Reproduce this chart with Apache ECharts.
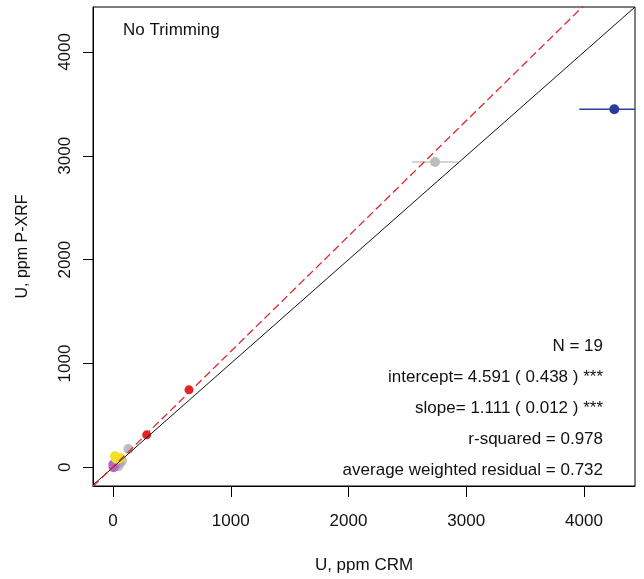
<!DOCTYPE html>
<html>
<head>
<meta charset="utf-8">
<script src="https://cdn.jsdelivr.net/npm/echarts@6/dist/echarts.min.js"></script>
<style>
html,body{margin:0;padding:0;background:#fff;}
#chart{width:644px;height:579px;}
</style>
</head>
<body>
<div id="chart"></div>
<script>
// ---- data ----
const xTicks = [0, 1000, 2000, 3000, 4000];
const yTicks = [0, 1000, 2000, 3000, 4000];
const xRange = [-170, 4433];
const yRange = [-180, 4433];

// CRM (x), P-XRF (y), horizontal error (CRM uncertainty)
const blueCRM = [4257];
const bluePXRF = [3449];
const blueErr = [297];

const grayCRM = [2735, 130, 45, 60, 35, 75];
const grayPXRF = [2940, 176, 11, 40, 55, 62];
const grayErr = [196, 0, 0, 0, 0, 0];

const redCRM = [645, 286];
const redPXRF = [746, 313];

const yellowCRM = [17, 59, 40, 25];
const yellowPXRF = [106, 90, 75, 85];

const purpleCRM = [5, 3, 10, 15];
const purplePXRF = [0, 27, 15, 35];

const lavenderCRM = [30, 50];
const lavenderPXRF = [30, 48];

const fitIntercept = 4.591;
const fitSlope = 1.111;

const title = 'No Trimming';
const statsLines = [
  'N = 19',
  'intercept= 4.591 ( 0.438 ) ***',
  'slope= 1.111 ( 0.012 ) ***',
  'r-squared = 0.978',
  'average weighted residual = 0.732'
];

// ---- build ----
function pts(xs, ys) { return xs.map((x, i) => [x, ys[i]]); }
function errs(xs, ys, es) { return xs.map((x, i) => [x, ys[i], es[i]]); }

const FONT = 'Liberation Sans, Arial, sans-serif';
const FS = 17;
const chart = echarts.init(document.getElementById('chart'));

function errSeries(data, color) {
  return {
    type: 'custom',
    clip: true,
    z: 2,
    data: data,
    renderItem: function (params, api) {
      const x = api.value(0), y = api.value(1), e = api.value(2);
      const p1 = api.coord([x - e, y]);
      const p2 = api.coord([x + e, y]);
      return {
        type: 'line',
        shape: { x1: p1[0], y1: p1[1], x2: p2[0], y2: p2[1] },
        style: { stroke: color, lineWidth: 1.5 }
      };
    }
  };
}
function scat(data, color, size) {
  return {
    type: 'scatter', data: data, symbol: 'circle', symbolSize: size || 10,
    itemStyle: { color: color, opacity: 1 }, z: 3, silent: true
  };
}

const oneToOne = [[xRange[0], xRange[0]], [xRange[1], xRange[1]]];
const fitLine = [[xRange[0], fitIntercept + fitSlope * xRange[0]], [xRange[1], fitIntercept + fitSlope * xRange[1]]];
const plain = v => String(v);

const option = {
  animation: false,
  backgroundColor: '#fff',
  grid: { left: 93, right: 9, top: 7, bottom: 89, show: true, borderColor: '#000', borderWidth: 1 },
  xAxis: {
    type: 'value', min: xRange[0], max: xRange[1],
    splitLine: { show: false },
    axisLine: { show: true, onZero: false, lineStyle: { color: '#000', width: 1 } },
    axisTick: { show: true, length: 11, customValues: xTicks, lineStyle: { color: '#000' } },
    axisLabel: { customValues: xTicks, formatter: plain, margin: 27, fontSize: FS, fontFamily: FONT, color: '#111' },
    name: 'U, ppm CRM', nameLocation: 'middle', nameGap: 71,
    nameTextStyle: { fontSize: FS, fontFamily: FONT, color: '#111' }
  },
  yAxis: {
    type: 'value', min: yRange[0], max: yRange[1],
    splitLine: { show: false },
    axisLine: { show: true, onZero: false, lineStyle: { color: '#000', width: 1 } },
    axisTick: { show: true, length: 10, customValues: yTicks, lineStyle: { color: '#000' } },
    axisLabel: { customValues: yTicks, formatter: plain, rotate: 90, margin: 19, fontSize: FS, fontFamily: FONT, color: '#111' },
    name: 'U, ppm P-XRF', nameLocation: 'middle', nameGap: 62, nameRotate: 90,
    nameTextStyle: { fontSize: 16, fontFamily: FONT, color: '#111' }
  },
  series: [
    { type: 'line', data: oneToOne, symbol: 'none', clip: true, z: 4, lineStyle: { color: '#111', width: 1 }, silent: true },
    { type: 'line', data: fitLine, symbol: 'none', clip: true, z: 4, lineStyle: { color: '#e0282a', width: 1.3, type: [8, 4] }, silent: true },
    errSeries(errs(blueCRM, bluePXRF, blueErr), '#2f3f9e'),
    errSeries(errs(grayCRM, grayPXRF, grayErr), '#c4c4c4'),
    scat(pts(grayCRM, grayPXRF), '#bdbdbd'),
    scat(pts(lavenderCRM, lavenderPXRF), '#aaa4c2'),
    scat(pts(purpleCRM, purplePXRF), '#b566c8'),
    scat(pts(yellowCRM, yellowPXRF), '#f0e22a'),
    scat(pts(redCRM, redPXRF), '#e52326', 9),
    scat(pts(blueCRM, bluePXRF), '#2b3c9c')
  ],
  graphic: [
    { type: 'text', left: 123, top: 22, style: { text: title, font: FS + 'px ' + FONT, fill: '#111' } }
  ].concat(statsLines.map((t, i) => ({
    type: 'text', right: 41, top: 338 + i * 31,
    style: { text: t, font: FS + 'px ' + FONT, fill: '#111', textAlign: 'right' }
  })))
};
chart.setOption(option);
</script>
</body>
</html>
